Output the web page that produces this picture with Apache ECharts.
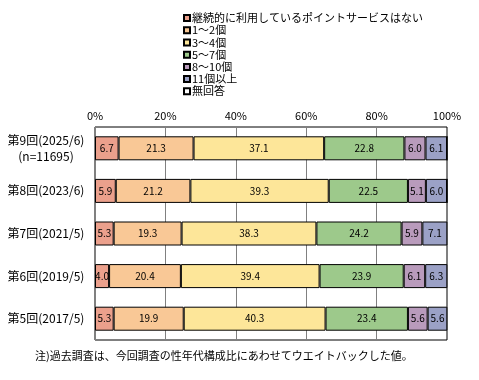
<!DOCTYPE html>
<html><head><meta charset="utf-8">
<script src="https://cdn.jsdelivr.net/npm/echarts@6/dist/echarts.min.js"></script>
<style>html,body{margin:0;padding:0;background:#fff}#c{width:479px;height:380px}</style>
</head><body><div id="c"></div>
<script>
const categories = ['第9回(2025/6)\n(n=11695)', '第8回(2023/6)', '第7回(2021/5)', '第6回(2019/5)', '第5回(2017/5)'];
const seriesNames = ['継続的に利用しているポイントサービスはない', '1～2個', '3～4個', '5～7個', '8～10個', '11個以上', '無回答'];
const none     = [6.7, 5.9, 5.3, 4.0, 5.3];
const c1to2    = [21.3, 21.2, 19.3, 20.4, 19.9];
const c3to4    = [37.1, 39.3, 38.3, 39.4, 40.3];
const c5to7    = [22.8, 22.5, 24.2, 23.9, 23.4];
const c8to10   = [6.0, 5.1, 5.9, 6.1, 5.6];
const c11plus  = [6.1, 6.0, 7.1, 6.3, 5.6];
const noAnswer = [0, 0, 0, 0, 0];
const tickLabels = ['0%', '20%', '40%', '60%', '80%', '100%'];
const noteText = '注)過去調査は、今回調査の性年代構成比にあわせてウエイトバックした値。';

const colors = ['#EBA08C', '#F9C896', '#FDE699', '#9DC98B', '#B99BBC', '#9BA1C6', '#FFFFFF'];
const values = [none, c1to2, c3to4, c5to7, c8to10, c11plus, noAnswer];
const FONT = '"Noto Sans CJK JP", sans-serif';

const chart = echarts.init(document.getElementById('c'), null, {renderer: 'canvas'});
chart.setOption({
  animation: false,
  textStyle: {fontFamily: FONT},
  legend: {
    orient: 'vertical', left: 178, top: 7,
    itemWidth: 6, itemHeight: 6, itemGap: 0,
    icon: 'rect',
    textStyle: {fontFamily: FONT, fontSize: 11, color: '#000', lineHeight: 12.2, padding: [0,0,0,-3]},
    data: seriesNames
  },
  grid: {left: 95, right: 32, top: 127, bottom: 40, show: true, borderColor: '#000', borderWidth: 1, containLabel: false},
  xAxis: {
    type: 'value', position: 'top', min: 0, max: 100, interval: 20,
    axisLine: {show: false}, axisTick: {show: false},
    axisLabel: {fontFamily: FONT, fontSize: 11, color: '#000', margin: 6,
      formatter: v => tickLabels[Math.round(v / 20)]},
    splitLine: {show: true, lineStyle: {color: '#808080', width: 1}}
  },
  yAxis: {
    type: 'category', inverse: true, data: categories,
    axisLine: {show: false}, axisTick: {show: false},
    axisLabel: {fontFamily: FONT, fontSize: 12, color: '#000', margin: 49, align: 'center', lineHeight: 16}
  },
  series: seriesNames.map((n, i) => ({
    name: n, type: 'bar', stack: 'all', barWidth: 24,
    data: values[i],
    itemStyle: {color: colors[i], borderColor: '#000', borderWidth: 1},
    label: {show: i < 6, position: 'inside', color: '#000', fontSize: 10, fontFamily: FONT,
      formatter: p => p.value.toFixed(1)}
  })),
  graphic: [{type: 'text', left: 35, top: 350, style: {text: noteText, fontFamily: FONT, fontSize: 11, fill: '#000'}}]
});
</script></body></html>
